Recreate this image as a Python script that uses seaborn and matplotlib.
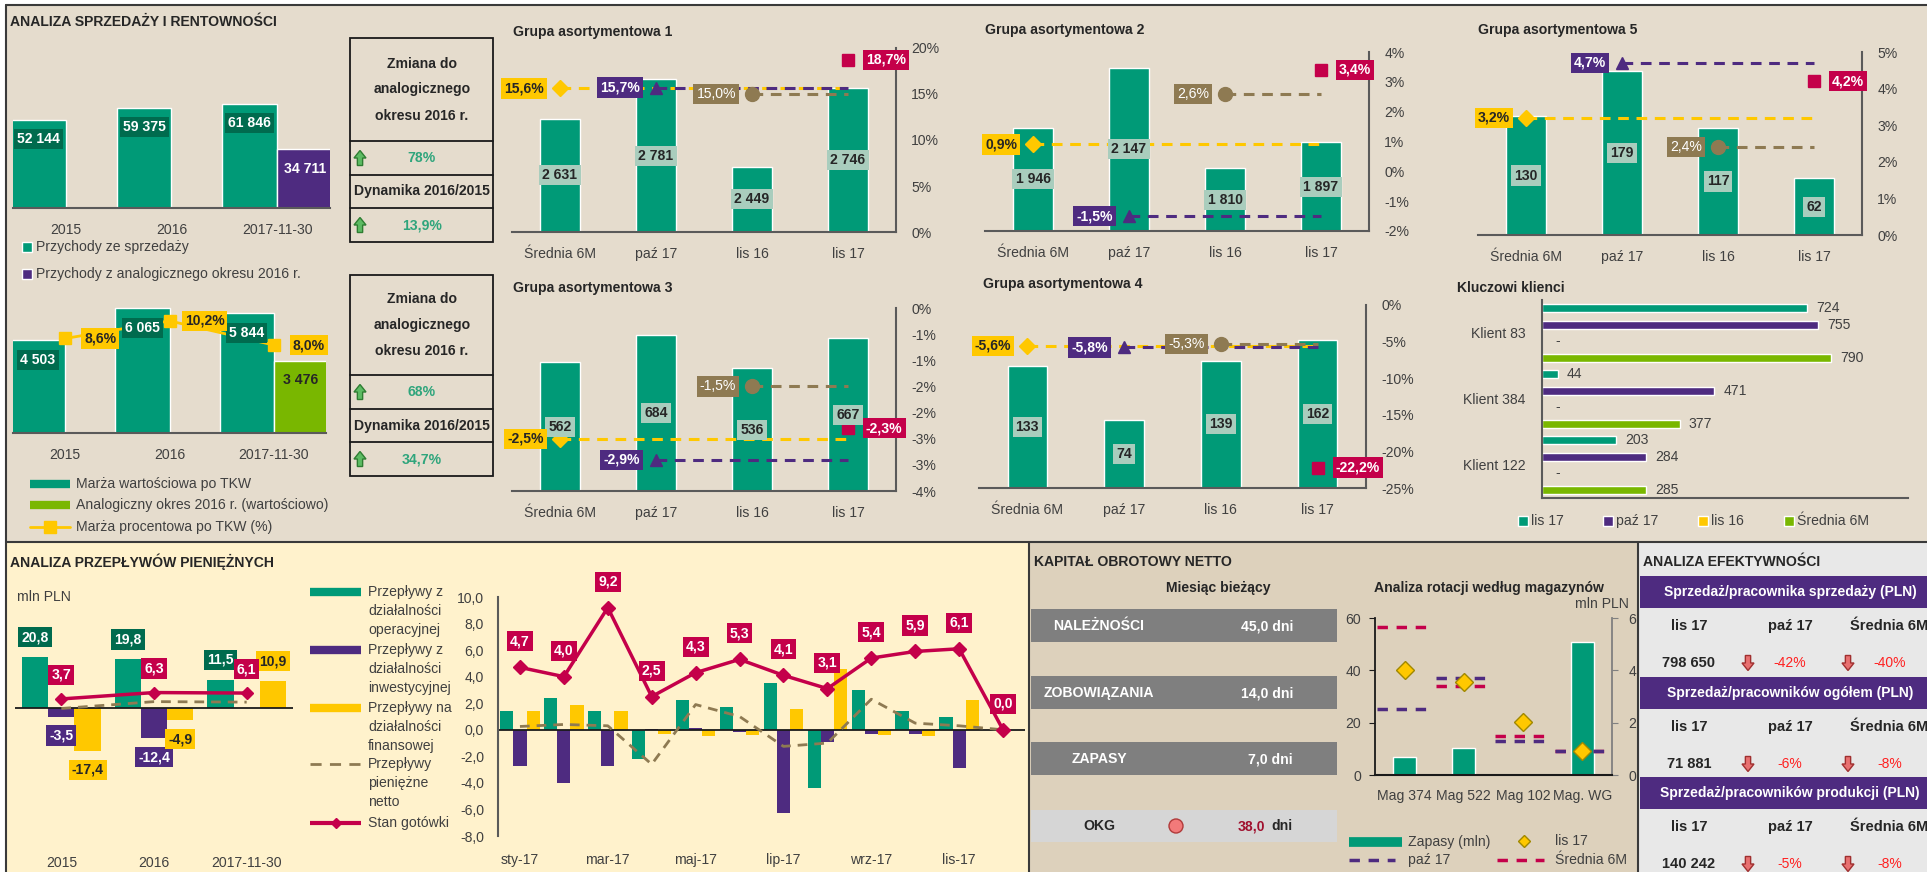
import numpy as np
import pandas as pd
import seaborn as sns
import matplotlib.pyplot as plt
from matplotlib import font_manager
from matplotlib.patches import Rectangle, Polygon, Circle

W, H = 1927, 872

GREEN = '#009A77'
DARK_GREEN = '#006B4E'
PURPLE = '#4E2B80'
YELLOW = '#FFC800'
LIME = '#79B700'
CRIMSON = '#C4004A'
BROWN = '#8E7A52'
LABEL_BOX = '#A9CDBD'
TEAL = '#2FA57C'
INK = '#262626'
TXT = '#404040'
AXIS = '#5A5A5A'
BG_TOP = '#E5DCCD'
BG_CASH = '#FFF2CC'
BG_NWC = '#DDD1BC'
BG_EFF = '#E8E8E8'
GREY_ROW = '#7F7F7F'

# ---------------- data ----------------
years = ['2015', '2016', '2017-11-30']
sales = [52144, 59375, 61846]
sales_prev = [np.nan, np.nan, 34711]
margin = [4503, 6065, 5844]
margin_prev = [np.nan, np.nan, 3476]
margin_pct = [8.6, 10.2, 8.0]
change_vs_2016 = ['78%', '68%']
dyn_2016_2015 = ['13,9%', '34,7%']

periods = ['Średnia 6M', 'paź 17', 'lis 16', 'lis 17']
g1_vals = [2631, 2781, 2449, 2746]
g1_pct = [15.6, 15.7, 15.0, 18.7]
g2_vals = [1946, 2147, 1810, 1897]
g2_pct = [0.9, -1.5, 2.6, 3.4]
g3_vals = [562, 684, 536, 667]
g3_pct = [-2.5, -2.9, -1.5, -2.3]
g4_vals = [133, 74, 139, 162]
g4_pct = [-5.6, -5.8, -5.3, -22.2]
g5_vals = [130, 179, 117, 62]
g5_pct = [3.2, 4.7, 2.4, 4.2]

clients = ['Klient 83', 'Klient 384', 'Klient 122']
client_series = ['lis 17', 'paź 17', 'lis 16', 'Średnia 6M']
cl_lis17 = [724, 44, 203]
cl_paz17 = [755, 471, 284]
cl_lis16 = [np.nan, np.nan, np.nan]
cl_avg6m = [790, 377, 285]

cf_years = ['2015', '2016', '2017-11-30']
cf_oper = [20.8, 19.8, 11.5]
cf_inv = [-3.5, -12.4, np.nan]
cf_fin = [-17.4, -4.9, 10.9]
cf_net = [-0.2, 2.6, 2.4]
cf_cash = [3.7, 6.3, 6.1]

months = ['sty-17', 'lut-17', 'mar-17', 'kwi-17', 'maj-17', 'cze-17',
          'lip-17', 'sie-17', 'wrz-17', 'paź-17', 'lis-17', 'gru-17']
m_oper = [1.4, 2.4, 1.45, -2.2, 2.25, 1.7, 3.5, -4.4, 3.0, 1.4, 1.0, 0.0]
m_inv = [-2.7, -4.0, -2.7, 0.05, 0.15, -0.2, -6.25, -0.95, -0.3, -0.3, -2.9, 0.0]
m_fin = [1.4, 1.9, 1.45, -0.3, -0.45, -0.4, 1.6, 4.6, -0.4, -0.45, 2.25, 0.0]
m_net = [0.25, 0.4, 0.3, -2.6, 1.9, 1.0, -1.25, -1.0, 2.3, 0.5, 0.3, 0.0]
m_cash = [4.7, 4.0, 9.2, 2.5, 4.3, 5.3, 4.1, 3.1, 5.4, 5.9, 6.1, 0.0]
cf_legend = [['Przepływy z', 'działalności', 'operacyjnej'],
             ['Przepływy z', 'działalności', 'inwestycyjnej'],
             ['Przepływy na', 'działalności', 'finansowej'],
             ['Przepływy', 'pieniężne', 'netto'],
             ['Stan gotówki']]

nwc_rows = ['NALEŻNOŚCI', 'ZOBOWIĄZANIA', 'ZAPASY']
nwc_days = [45.0, 14.0, 7.0]
okg_days = 38.0

mags = ['Mag 374', 'Mag 522', 'Mag 102', 'Mag. WG']
mag_stock = [0.7, 1.05, 0.0, 5.1]
mag_lis17 = [40.2, 35.4, 20.2, 9.2]
mag_paz17 = [25.4, 37.0, 13.1, 9.3]
mag_avg6m = [56.4, 34.2, 14.9, 9.3]

eff_titles = ['Sprzedaż/pracownika sprzedaży (PLN)',
              'Sprzedaż/pracowników ogółem (PLN)',
              'Sprzedaż/pracowników produkcji (PLN)']
eff_lis17 = ['798 650', '71 881', '140 242']
eff_vs_paz = ['-42%', '-6%', '-5%']
eff_vs_avg = ['-40%', '-8%', '-8%']

# ---------------- style ----------------
sns.set_style('white')
names = {f.name for f in font_manager.fontManager.ttflist}
NARROW = 'Liberation Sans Narrow' in names
K = 1.0 if NARROW else 0.84
plt.rcParams['font.family'] = ['Liberation Sans Narrow' if NARROW else 'Liberation Sans', 'DejaVu Sans']
WIDE = ['Liberation Sans', 'DejaVu Sans']


def fmt_int(v):
    return f'{v:,.0f}'.replace(',', ' ')


def fmt_dec(v):
    return f'{v:.1f}'.replace('.', ',')


def fmt_pct(v):
    return fmt_dec(v) + '%'


fig = plt.figure(figsize=(W / 100, H / 100), dpi=100, facecolor='white')
bg = fig.add_axes([0, 0, 1, 1], zorder=-5)
bg.set_xlim(0, W)
bg.set_ylim(H, 0)
bg.axis('off')


def px_axes(x0, y0, x1, y1):
    ax = fig.add_axes([x0 / W, 1 - y1 / H, (x1 - x0) / W, (y1 - y0) / H])
    ax.set_facecolor('none')
    return ax


def put(x, y, s, size=12, color=TXT, weight='normal', ha='left', va='center', wide=False):
    if wide:
        bg.text(x, y, s, fontsize=size, color=color, fontweight=weight, ha=ha, va=va, family=WIDE)
    else:
        bg.text(x, y, s, fontsize=size * K, color=color, fontweight=weight, ha=ha, va=va)


def tag(ax, x, y, s, fc, tc='white', dx=0, dy=0, ha='center', size=12, weight='bold', xycoords='data'):
    box = None if fc is None else dict(boxstyle='square,pad=0.22', fc=fc, ec='none')
    ax.annotate(s, (x, y), xycoords=xycoords, xytext=(dx, dy), textcoords='offset pixels',
                ha=ha, va='center', fontsize=size * K, color=tc, fontweight=weight,
                zorder=8, annotation_clip=False, bbox=box)


def arrow(cx, cy, up, fc, ec, w=12, h=15):
    hw, sw, hl = w / 2, w * 0.22, h * 0.5
    s = -1 if up else 1
    tip, base = cy + s * h / 2, cy - s * h / 2
    neck = tip - s * hl
    pts = [(cx - sw, base), (cx + sw, base), (cx + sw, neck), (cx + hw, neck),
           (cx, tip), (cx - hw, neck), (cx - sw, neck)]
    bg.add_patch(Polygon(pts, closed=True, fc=fc, ec=ec, lw=1))


def clean_bars(ax, pad=10.5, size=12):
    ax.set_xlabel('')
    ax.set_ylabel('')
    for s in ['top', 'left', 'right']:
        ax.spines[s].set_visible(False)
    ax.spines['bottom'].set_color(AXIS)
    ax.spines['bottom'].set_linewidth(1.5)
    ax.set_yticks([])
    ax.tick_params(axis='x', length=0, pad=pad, labelsize=size * K, labelcolor=TXT)


def hide_twin(ax2):
    for s in ax2.spines.values():
        s.set_visible(False)
    ax2.set_yticks([])


# ---------------- section backgrounds / frames ----------------
bg.add_patch(Rectangle((6, 5), W - 6, 537, fc=BG_TOP, ec='none'))
bg.add_patch(Rectangle((6, 542), 1023, 330, fc=BG_CASH, ec='none'))
bg.add_patch(Rectangle((1029, 542), 609, 330, fc=BG_NWC, ec='none'))
bg.add_patch(Rectangle((1638, 542), 289, 330, fc=BG_EFF, ec='none'))
bg.plot([6, W], [5, 5], color='#3A3A3A', lw=1.5)
bg.plot([6, W], [542, 542], color='#3A3A3A', lw=1.5)
for x in [6, 1029, 1638]:
    y_start = 5 if x == 6 else 542
    bg.plot([x, x], [y_start, H], color='#3A3A3A', lw=1.5)

# ---------------- sales & profitability ----------------
put(10, 22, 'ANALIZA SPRZEDAŻY I RENTOWNOŚCI', weight='bold', color=INK)

df_sales = pd.DataFrame({'rok': years * 2,
                         'seria': ['sprzedaz'] * 3 + ['analog'] * 3,
                         'wartosc': sales + sales_prev})
ax = px_axes(13, 90, 330, 208)
sns.barplot(data=df_sales, x='rok', y='wartosc', hue='seria', palette=[GREEN, PURPLE],
            width=1.04, saturation=1, edgecolor='white', linewidth=1, errorbar=None,
            legend=False, ax=ax)
ax.set_ylim(0, 70000)
ax.set_xlim(-0.5, 2.5)
clean_bars(ax)
for i, v in enumerate(sales):
    tag(ax, i - 0.26, v, fmt_int(v), DARK_GREEN, dy=-19)
tag(ax, 2 + 0.26, sales_prev[2], fmt_int(sales_prev[2]), None, 'white', dy=-20)

bg.plot(27, 247, marker='s', ms=7, color=GREEN, mec='white')
put(36, 247, 'Przychody ze sprzedaży')
bg.plot(27, 274, marker='s', ms=7, color=PURPLE, mec='white')
put(36, 274, 'Przychody z analogicznego okresu 2016 r.')

df_margin = pd.DataFrame({'rok': years * 2,
                          'seria': ['marza'] * 3 + ['analog'] * 3,
                          'wartosc': margin + margin_prev})
ax = px_axes(13, 289, 326, 433)
sns.barplot(data=df_margin, x='rok', y='wartosc', hue='seria', palette=[GREEN, LIME],
            width=1.04, saturation=1, edgecolor='white', linewidth=1, errorbar=None,
            legend=False, ax=ax)
ax.set_ylim(0, 7000)
ax.set_xlim(-0.5, 2.5)
clean_bars(ax)
ax2 = ax.twinx()
ax2.set_ylim(0, 13.1)
hide_twin(ax2)
ax2.plot(range(3), margin_pct, color=YELLOW, lw=2, marker='s', ms=8, zorder=3)
for i, v in enumerate(margin):
    tag(ax2, i - 0.26, v, fmt_int(v), DARK_GREEN, dy=-20, xycoords=ax.transData)
tag(ax2, 2 + 0.26, margin_prev[2], fmt_int(margin_prev[2]), None, INK, dy=-19,
    xycoords=ax.transData)
for i, v in enumerate(margin_pct):
    tag(ax2, i, v, fmt_pct(v), YELLOW, INK, dx=35)

bg.plot([30, 70], [484, 484], color=GREEN, lw=6, solid_capstyle='butt')
put(76, 484, 'Marża wartościowa po TKW')
bg.plot([30, 70], [505, 505], color=LIME, lw=6, solid_capstyle='butt')
put(76, 505, 'Analogiczny okres 2016 r. (wartościowo)')
bg.plot([30, 70], [527, 527], color=YELLOW, lw=2)
bg.plot(50, 527, marker='s', ms=8, color=YELLOW)
put(76, 527, 'Marża procentowa po TKW (%)')

for k, (ytop, ybot, rows) in enumerate([(38, 242, [141, 175, 208]),
                                         (275, 476, [375, 409, 442])]):
    bg.add_patch(Rectangle((350, ytop), 143, ybot - ytop, fill=False, ec='#1A1A1A', lw=1.3))
    for r in rows:
        bg.plot([350, 493], [r, r], color='#1A1A1A', lw=1.3)
    hc = (ytop + rows[0]) / 2
    for dy, line in zip([-26, 0, 26], ['Zmiana do', 'analogicznego', 'okresu 2016 r.']):
        put(422, hc + dy, line, weight='bold', color=INK, ha='center')
    y1 = (rows[0] + rows[1]) / 2
    y2 = (rows[1] + rows[2]) / 2
    y3 = (rows[2] + ybot) / 2
    arrow(360, y1, True, '#5DBB63', '#2E7D32')
    put(422, y1, change_vs_2016[k], weight='bold', color=TEAL, ha='center')
    put(422, y2, 'Dynamika 2016/2015', weight='bold', color=INK, ha='center')
    arrow(360, y3, True, '#5DBB63', '#2E7D32')
    put(422, y3, dyn_2016_2015[k], weight='bold', color=TEAL, ha='center')

# ---------------- product groups ----------------
pct_styles = [(YELLOW, 'D', 8, INK, 'bold', -1),
              (PURPLE, '^', 9, 'white', 'bold', -1),
              (BROWN, 'o', 10, 'white', 'normal', -1),
              (CRIMSON, 's', 9, 'white', 'bold', 1)]


def group_chart(box, title, title_xy, vals, ylim, pct, plim, pticks, plabels):
    x0, y0, x1, y1 = box
    ax = px_axes(x0, y0, x1, y1)
    sns.barplot(x=periods, y=vals, color=GREEN, width=0.41, saturation=1,
                edgecolor='white', linewidth=1, errorbar=None, ax=ax)
    ax.set_ylim(*ylim)
    ax.set_xlim(-0.5, 3.5)
    clean_bars(ax)
    ax2 = ax.twinx()
    ax2.set_ylim(*plim)
    ax2.set_yticks(pticks)
    ax2.set_yticklabels(plabels)
    for s in ['top', 'left', 'bottom']:
        ax2.spines[s].set_visible(False)
    ax2.spines['right'].set_color(AXIS)
    ax2.spines['right'].set_linewidth(1.5)
    ax2.tick_params(axis='y', length=0, pad=11, labelsize=12 * K, labelcolor=TXT)
    for i, (v, (c, m, ms, tc, wt, side)) in enumerate(zip(pct, pct_styles)):
        if i < 3:
            ax2.plot([i, 3], [v, v], color=c, lw=2.2, ls=(0, (3.5, 2.5)), zorder=3)
        ax2.plot([i], [v], marker=m, color=c, ms=ms, ls='none', zorder=4)
    for i, v in enumerate(vals):
        tag(ax2, i, (ylim[0] + v) / 2, fmt_int(v), LABEL_BOX, INK, xycoords=ax.transData)
    for i, (v, (c, m, ms, tc, wt, side)) in enumerate(zip(pct, pct_styles)):
        if side < 0:
            tag(ax2, i, v, fmt_pct(v), c, tc, dx=-16, ha='right', weight=wt)
        else:
            tag(ax2, i, v, fmt_pct(v), c, tc, dx=18, ha='left', weight=wt)
    put(title_xy[0], title_xy[1], title, weight='bold', color=INK)


group_chart((512, 48, 896, 232), 'Grupa asortymentowa 1', (513, 32), g1_vals, (2200, 2900),
            g1_pct, (0, 20), [0, 5, 10, 15, 20], ['0%', '5%', '10%', '15%', '20%'])
group_chart((985, 52, 1369, 231), 'Grupa asortymentowa 2', (985, 30), g2_vals, (1600, 2200),
            g2_pct, (-2, 4), list(range(-2, 5)), [f'{t}%' for t in range(-2, 5)])
group_chart((1478, 52, 1862, 235), 'Grupa asortymentowa 5', (1478, 30), g5_vals, (0, 200),
            g5_pct, (0, 5), list(range(0, 6)), [f'{t}%' for t in range(0, 6)])
group_chart((512, 308, 896, 491), 'Grupa asortymentowa 3', (513, 288), g3_vals, (0, 800),
            g3_pct, (-3.5, 0), [0, -0.5, -1, -1.5, -2, -2.5, -3, -3.5],
            ['0%', '-1%', '-1%', '-2%', '-2%', '-3%', '-3%', '-4%'])
group_chart((979, 305, 1366, 488), 'Grupa asortymentowa 4', (983, 284), g4_vals, (0, 200),
            g4_pct, (-25, 0), list(range(0, -26, -5)), [f'{t}%' for t in range(0, -26, -5)])

# ---------------- key clients ----------------
put(1457, 288, 'Kluczowi klienci', weight='bold', color=INK)
df_cl = pd.DataFrame({'klient': clients * 4,
                      'seria': np.repeat(client_series, 3),
                      'wartosc': cl_lis17 + cl_paz17 + cl_lis16 + cl_avg6m})
cl_colors = [GREEN, PURPLE, YELLOW, LIME]
ax = px_axes(1542, 300, 1908, 498)
sns.barplot(data=df_cl, y='klient', x='wartosc', hue='seria', hue_order=client_series,
            palette=cl_colors, orient='y', width=1.0, gap=0.5, saturation=1,
            edgecolor='white', linewidth=1, errorbar=None, legend=False, ax=ax)
ax.set_xlim(0, 1000)
ax.set_ylim(2.5, -0.5)
ax.set_xlabel('')
ax.set_ylabel('')
ax.set_xticks([])
for s in ['top', 'right']:
    ax.spines[s].set_visible(False)
for s in ['left', 'bottom']:
    ax.spines[s].set_color(AXIS)
    ax.spines[s].set_linewidth(1.5)
ax.set_yticks([-0.5, 0.5, 1.5, 2.5], minor=True)
ax.tick_params(axis='y', which='minor', length=5, color=AXIS, direction='out', width=1.2)
ax.tick_params(axis='y', which='major', length=0, pad=12, labelsize=12 * K, labelcolor=TXT)
series_vals = [cl_lis17, cl_paz17, cl_lis16, cl_avg6m]
for j, sv in enumerate(series_vals):
    for i, v in enumerate(sv):
        yy = i - 0.375 + 0.25 * j
        if np.isnan(v):
            ax.annotate('-', (0, yy), xytext=(13, 0), textcoords='offset pixels',
                        va='center', fontsize=12 * K, color=TXT)
        else:
            ax.annotate(fmt_int(v), (v, yy), xytext=(9, 0), textcoords='offset pixels',
                        va='center', fontsize=12 * K, color=TXT)
for x, c, lab in zip([1523, 1608, 1703, 1789], cl_colors, client_series):
    bg.plot(x, 521, marker='s', ms=7, color=c, mec='white')
    put(x + 8, 521, lab)

# ---------------- cash flow ----------------
put(10, 562, 'ANALIZA PRZEPŁYWÓW PIENIĘŻNYCH', weight='bold', color=INK)
put(17, 597, 'mln PLN')
df_cf = pd.DataFrame({'rok': cf_years * 3,
                      'rodzaj': np.repeat(['oper', 'inw', 'fin'], 3),
                      'wartosc': cf_oper + cf_inv + cf_fin})
ax = px_axes(15, 610, 293, 806)
sns.barplot(data=df_cf, x='rok', y='wartosc', hue='rodzaj', palette=[GREEN, PURPLE, YELLOW],
            width=0.85, saturation=1, edgecolor='none', errorbar=None, legend=False, ax=ax)
ax.set_ylim(-40, 40)
ax.set_xlim(-0.5, 2.5)
ax.set_xlabel('')
ax.set_ylabel('')
for s in ax.spines.values():
    s.set_visible(False)
ax.set_yticks([])
ax.tick_params(axis='x', length=0, pad=36, labelsize=12 * K, labelcolor=TXT)
ax.axhline(0, color='#1A1A1A', lw=1.3, zorder=2)
ax.plot(range(3), cf_net, color=BROWN, lw=2, ls=(0, (3.5, 2.5)), zorder=3)
ax.plot(range(3), cf_cash, color=CRIMSON, lw=2.5, marker='D', ms=6, zorder=4)
off = 0.85 / 3
for i in range(3):
    tag(ax, i - off, cf_oper[i], fmt_dec(cf_oper[i]), DARK_GREEN, dy=20)
    if not np.isnan(cf_inv[i]):
        tag(ax, i, cf_inv[i], fmt_dec(cf_inv[i]), PURPLE, dy=-19)
    fv = cf_fin[i]
    tag(ax, i + off, fv, fmt_dec(fv), YELLOW, INK, dy=20 if fv > 0 else -19)
    tag(ax, i, cf_cash[i], fmt_dec(cf_cash[i]), CRIMSON, dy=24)

leg_y = [592, 650, 708, 764, 823]
leg_style = [(GREEN, '-', 6), (PURPLE, '-', 6), (YELLOW, '-', 6), (BROWN, '--', 2), (CRIMSON, '-', 3)]
for y, lines, (c, ls, lw) in zip(leg_y, cf_legend, leg_style):
    if ls == '--':
        bg.plot([310, 361], [y, y], color=c, lw=lw, ls=(0, (4, 3)))
    else:
        bg.plot([310, 361], [y, y], color=c, lw=lw, solid_capstyle='butt')
    for n, line in enumerate(lines):
        put(368, y + 19 * n, line)
bg.plot(336, 823, marker='D', ms=5, color=CRIMSON)

df_m = pd.DataFrame({'miesiac': months * 3,
                     'rodzaj': np.repeat(['oper', 'inw', 'fin'], 12),
                     'wartosc': m_oper + m_inv + m_fin})
ax = px_axes(498, 597, 1025, 836)
sns.barplot(data=df_m, x='miesiac', y='wartosc', hue='rodzaj', palette=[GREEN, PURPLE, YELLOW],
            width=0.9, saturation=1, edgecolor='none', errorbar=None, legend=False, ax=ax)
ax.set_ylim(-8, 10)
ax.set_xlim(-0.5, 11.5)
ax.set_xlabel('')
ax.set_ylabel('')
yt = np.arange(-8, 11, 2)
ax.set_yticks(yt)
ax.set_yticklabels([fmt_dec(v) for v in yt])
ax.set_xticks(range(0, 12, 2))
ax.set_xticklabels(months[::2])
for s in ['top', 'right', 'bottom']:
    ax.spines[s].set_visible(False)
ax.spines['left'].set_color(AXIS)
ax.spines['left'].set_linewidth(1.5)
ax.tick_params(axis='y', length=4, width=1.2, color=AXIS, pad=6, labelsize=12 * K, labelcolor=TXT)
ax.tick_params(axis='x', length=0, pad=12, labelsize=12 * K, labelcolor=TXT)
ax.axhline(0, color='#1A1A1A', lw=1.3, zorder=2)
ax.plot(range(12), m_net, color=BROWN, lw=2, ls=(0, (3.5, 2.5)), zorder=3)
ax.plot(range(12), m_cash, color=CRIMSON, lw=2.5, marker='D', ms=7, zorder=4)
for i, v in enumerate(m_cash):
    tag(ax, i, v, fmt_dec(v), CRIMSON, dy=26)

# ---------------- net working capital ----------------
put(1034, 562, 'KAPITAŁ OBROTOWY NETTO', weight='bold', color=INK)
put(1218, 588, 'Miesiąc bieżący', weight='bold', color=INK, ha='center')
for (y0, name, d) in zip([609, 676, 742], nwc_rows, nwc_days):
    bg.add_patch(Rectangle((1031, y0), 306, 33, fc=GREY_ROW, ec='none'))
    put(1099, y0 + 17, name, weight='bold', color='white', ha='center')
    put(1293, y0 + 17, f'{fmt_dec(d)} dni', weight='bold', color='white', ha='right')
bg.add_patch(Rectangle((1031, 810), 306, 32, fc='#D6D6D6', ec='none'))
put(1099, 826, 'OKG', weight='bold', color=INK, ha='center')
bg.add_patch(Circle((1176, 826), 7, fc='#F27A7A', ec='#B03A3A', lw=1))
put(1293, 826, 'dni', weight='bold', color=INK, ha='right')
put(1265, 826, fmt_dec(okg_days), weight='bold', color='#A0102E', ha='right')

put(1489, 588, 'Analiza rotacji według magazynów', weight='bold', color=INK, ha='center')
put(1629, 604, 'mln PLN', ha='right')
ax = px_axes(1375, 618, 1612, 775)
sns.barplot(x=mags, y=mag_stock, color=GREEN, width=0.39, saturation=1, errorbar=None, ax=ax)
ax.set_ylim(0, 6)
ax.set_xlim(-0.5, 3.5)
ax2 = ax.twinx()
ax2.set_ylim(0, 60)
ax.yaxis.tick_right()
ax2.yaxis.tick_left()
ax.set_yticks([0, 2, 4, 6])
ax2.set_yticks([0, 20, 40, 60])
for a in (ax, ax2):
    for s in a.spines.values():
        s.set_visible(False)
ax.spines['bottom'].set_visible(True)
ax.spines['bottom'].set_color('#1A1A1A')
ax.spines['bottom'].set_linewidth(1.5)
ax.spines['right'].set_visible(True)
ax.spines['right'].set_color('#808080')
ax.spines['right'].set_linewidth(1.3)
ax2.spines['left'].set_visible(True)
ax2.spines['left'].set_color('#1A1A1A')
ax2.spines['left'].set_linewidth(1.3)
ax.set_xlabel('')
ax.set_ylabel('')
ax.tick_params(axis='y', length=4, color='#808080', pad=8, labelsize=12 * K, labelcolor=TXT)
ax2.tick_params(axis='y', length=4, color='#1A1A1A', pad=6, labelsize=12 * K, labelcolor=TXT)
ax.tick_params(axis='x', length=0, pad=10, labelsize=12 * K, labelcolor=TXT)
pos = np.arange(4)
ax2.hlines(mag_avg6m, pos - 0.47, pos + 0.47, colors=CRIMSON, lw=2.5, linestyles=(0, (3, 2.5)))
ax2.hlines(mag_paz17, pos - 0.47, pos + 0.47, colors=PURPLE, lw=2.5, linestyles=(0, (3, 2.5)))
ax2.plot(pos, mag_lis17, ls='none', marker='D', ms=9, color=YELLOW, mec='#A08800', mew=1)

bg.plot([1349, 1402], [842, 842], color=GREEN, lw=7, solid_capstyle='butt')
put(1408, 842, 'Zapasy (mln)')
bg.plot(1524, 841, marker='D', ms=6, color=YELLOW, mec='#A08800')
put(1555, 841, 'lis 17')
bg.plot([1349, 1395], [860, 860], color=PURPLE, lw=2.5, ls=(0, (3, 2.5)))
put(1408, 860, 'paź 17')
bg.plot([1497, 1544], [860, 860], color=CRIMSON, lw=2.5, ls=(0, (3, 2.5)))
put(1555, 860, 'Średnia 6M')

# ---------------- efficiency ----------------
put(1643, 562, 'ANALIZA EFEKTYWNOŚCI', weight='bold', color=INK)
for k, (y0, ttl) in enumerate(zip([576, 677, 777], eff_titles)):
    bg.add_patch(Rectangle((1640, y0), 287, 32, fc=PURPLE, ec='none'))
    put(1790, y0 + 16, ttl, size=10, weight='bold', color='white', ha='center', wide=True)
    yl = y0 + 50
    yv = y0 + 87
    put(1689, yl, 'lis 17', size=10.5, weight='bold', color=INK, ha='center', wide=True)
    put(1790, yl, 'paź 17', size=10.5, weight='bold', color=INK, ha='center', wide=True)
    put(1889, yl, 'Średnia 6M', size=10.5, weight='bold', color=INK, ha='center', wide=True)
    put(1689, yv, eff_lis17[k], size=10.5, weight='bold', color=INK, ha='center', wide=True)
    arrow(1748, yv, False, '#E87070', '#A03030')
    put(1790, yv, eff_vs_paz[k], size=10, color='#FF2020', ha='center', wide=True)
    arrow(1848, yv, False, '#E87070', '#A03030')
    put(1890, yv, eff_vs_avg[k], size=10, color='#FF2020', ha='center', wide=True)

fig.savefig('out.png', dpi=100, facecolor='white')
